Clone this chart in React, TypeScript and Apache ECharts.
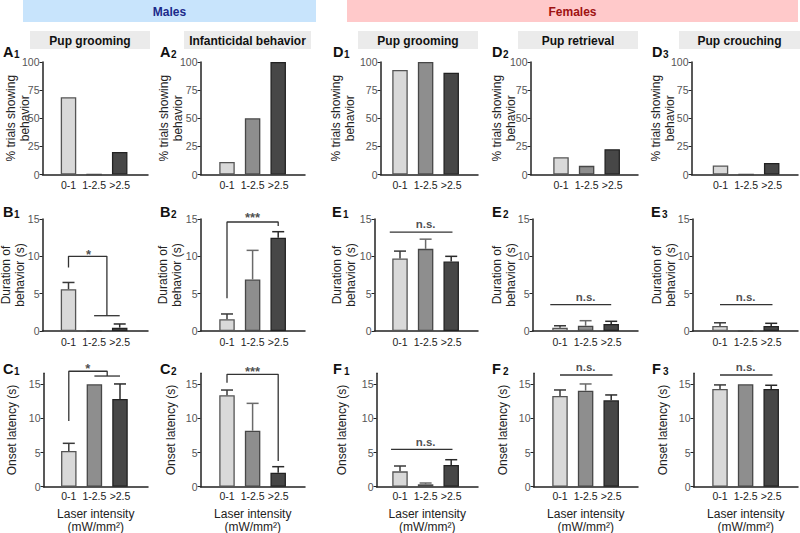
import React, { useEffect, useRef } from 'react';
import * as echarts from 'echarts';

const categories = ['0-1', '1-2.5', '>2.5'];

// % trials showing behavior
const A1_pct = [68.75, 0, 20];
const A2_pct = [11.1, 50, 100];
const D1_pct = [93, 100, 90.5];
const D2_pct = [15.4, 7.7, 22.5];
const D3_pct = [8, 0, 10.3];

// Duration of behavior (s): mean and mean + SEM
const B1_dur = [5.6, 0, 0.45];
const B1_durErr = [6.5, null, 0.94];
const B2_dur = [1.57, 6.9, 12.5];
const B2_durErr = [2.28, 10.8, 13.3];
const E1_dur = [9.7, 11.0, 9.3];
const E1_durErr = [10.7, 12.3, 10.0];
const E2_dur = [0.45, 0.7, 0.94];
const E2_durErr = [0.7, 1.38, 1.3];
const E3_dur = [0.67, 0, 0.67];
const E3_durErr = [1.1, null, 1.03];

// Onset latency (s): mean and mean + SEM
const C1_lat = [5.23, 15, 12.84];
const C1_latErr = [6.35, null, 15.04];
const C2_lat = [13.4, 8.2, 2.05];
const C2_latErr = [14.15, 12.2, 2.93];
const F1_lat = [2.25, 0.35, 3.18];
const F1_latErr = [3.03, 0.54, 3.95];
const F2_lat = [13.28, 14.06, 12.65];
const F2_latErr = [14.16, 15.04, 13.43];
const F3_lat = [14.3, 15, 14.3];
const F3_latErr = [14.9, null, 14.85];

// significance brackets (category index, value)
const B1_bracket = [[0, 8.5], [0, 10], [1.5, 10], [1.5, 2.05]];
const B1_group = [[1, 2.05], [2, 2.05]];
const B2_bracket = [[0, 4.4], [0, 14.6], [2, 14.6], [2, 14.06]];
const C1_bracket = [[0, 9.6], [0, 16.9], [1.5, 16.9], [1.5, 16.2]];
const C1_group = [[1, 16.2], [2, 16.2]];
const C2_bracket = [[0, 15.2], [0, 16.45], [2, 16.45], [2, 3.76]];
const E1_ns = [[-0.4, 13.25], [2.05, 13.25]];
const E2_ns = [[-0.38, 3.52], [2.0, 3.52]];
const E3_ns = [[0, 3.52], [2.05, 3.52]];
const F1_ns = [[-0.35, 5.47], [2.05, 5.47]];
const F2_ns = [[0, 16.35], [2.05, 16.35]];
const F3_ns = [[0, 16.35], [2.05, 16.35]];

const sigTexts = ['*', '***', 'n.s.'];

const FILL = ['#d9d9d9', '#8e8e8e', '#474747'];
const BORDER = ['#555555', '#474747', '#222222'];
const ERRC = ['#3a3a3a', '#6a6a6a', '#2a2a2a'];
const FONT = '"Liberation Sans", Arial, sans-serif';
const S = 25.6;

const ROWS = [
  { top: 62, base: 174.5, max: 100, ticks: [0, 25, 50, 75, 100], name: '% trials showing\nbehavior', tagY: 52 },
  { top: 219, base: 331, max: 15, ticks: [0, 5, 10, 15], name: 'Duration of\nbehavior (s)', tagY: 212 },
  { top: 373.3, base: 486.7, max: 16.6, ticks: [0, 5, 10, 15], name: 'Onset latency (s)', tagY: 369 },
];

type Mark = { text: string; at: number[] };
type Panel = {
  tag: string; sub: string; row: number; left: number; right: number; c0: number; gap: number; tagX: number;
  vals: number[]; errs?: (number | null)[]; lines?: number[][][]; marks?: Mark[];
};

const PANELS: Panel[] = [
  { tag: 'A', sub: '1', row: 0, left: 42.5, right: 148, c0: 68.5, gap: 11, tagX: 3, vals: A1_pct },
  { tag: 'A', sub: '2', row: 0, left: 200.5, right: 305, c0: 227, gap: 16, tagX: 160, vals: A2_pct },
  { tag: 'D', sub: '1', row: 0, left: 380.5, right: 478, c0: 400, gap: 23.5, tagX: 333, vals: D1_pct },
  { tag: 'D', sub: '2', row: 0, left: 530.5, right: 638, c0: 561, gap: 12.5, tagX: 492, vals: D2_pct },
  { tag: 'D', sub: '3', row: 0, left: 691.5, right: 798, c0: 720.5, gap: 14.5, tagX: 652, vals: D3_pct },
  { tag: 'B', sub: '1', row: 1, left: 42.5, right: 148, c0: 68.5, gap: 16, tagX: 3, vals: B1_dur, errs: B1_durErr,
    lines: [B1_bracket, B1_group], marks: [{ text: sigTexts[0], at: [0.78, 10.2] }] },
  { tag: 'B', sub: '2', row: 1, left: 200.5, right: 305, c0: 227, gap: 16.8, tagX: 160, vals: B2_dur, errs: B2_durErr,
    lines: [B2_bracket], marks: [{ text: sigTexts[1], at: [1, 15.2] }] },
  { tag: 'E', sub: '1', row: 1, left: 374.5, right: 478, c0: 400, gap: 16.5, tagX: 332, vals: E1_dur, errs: E1_durErr,
    lines: [E1_ns], marks: [{ text: sigTexts[2], at: [1, 14.3] }] },
  { tag: 'E', sub: '2', row: 1, left: 532.5, right: 638, c0: 560, gap: 14.5, tagX: 492, vals: E2_dur, errs: E2_durErr,
    lines: [E2_ns], marks: [{ text: sigTexts[2], at: [1, 4.6] }] },
  { tag: 'E', sub: '3', row: 1, left: 692.5, right: 798, c0: 720, gap: 14.5, tagX: 651, vals: E3_dur, errs: E3_durErr,
    lines: [E3_ns], marks: [{ text: sigTexts[2], at: [1, 4.6] }] },
  { tag: 'C', sub: '1', row: 2, left: 43.5, right: 148, c0: 68.8, gap: 24.5, tagX: 3, vals: C1_lat, errs: C1_latErr,
    lines: [C1_bracket, C1_group], marks: [{ text: sigTexts[0], at: [0.74, 17.28] }] },
  { tag: 'C', sub: '2', row: 2, left: 200.5, right: 305, c0: 227, gap: 23, tagX: 160, vals: C2_lat, errs: C2_latErr,
    lines: [C2_bracket], marks: [{ text: sigTexts[1], at: [1, 16.9] }] },
  { tag: 'F', sub: '1', row: 2, left: 376.5, right: 478, c0: 400, gap: 28, tagX: 333, vals: F1_lat, errs: F1_latErr,
    lines: [F1_ns], marks: [{ text: sigTexts[2], at: [1, 6.55] }] },
  { tag: 'F', sub: '2', row: 2, left: 533.5, right: 638, c0: 560, gap: 24, tagX: 492, vals: F2_lat, errs: F2_latErr,
    lines: [F2_ns], marks: [{ text: sigTexts[2], at: [1, 17.5] }] },
  { tag: 'F', sub: '3', row: 2, left: 693.5, right: 798, c0: 720, gap: 24, tagX: 652, vals: F3_lat, errs: F3_latErr,
    lines: [F3_ns], marks: [{ text: sigTexts[2], at: [1, 17.5] }] },
];

const TITLES = [
  { text: 'Pup grooming', x: 30, w: 120 },
  { text: 'Infanticidal behavior', x: 184, w: 127 },
  { text: 'Pup grooming', x: 358, w: 120 },
  { text: 'Pup retrieval', x: 518, w: 120 },
  { text: 'Pup crouching', x: 679, w: 121 },
];

function txt(x: number, y: number, text: string, size: number, color: string, weight = 'normal', align = 'center') {
  return {
    type: 'text', x, y, silent: true,
    style: {
      text, fill: color, fontSize: size, fontWeight: weight, fontFamily: FONT,
      align, verticalAlign: 'middle', textAlign: align, textVerticalAlign: 'middle',
    },
  };
}

function buildOption() {
  const grid: any[] = [];
  const xAxis: any[] = [];
  const yAxis: any[] = [];
  const series: any[] = [];

  PANELS.forEach((p, i) => {
    const r = ROWS[p.row];
    grid.push({
      left: p.left, top: r.top, width: p.right - p.left, height: r.base - r.top,
      containLabel: false, outerBoundsMode: 'none',
    });
    xAxis.push({
      type: 'value', gridIndex: i,
      min: -(p.c0 - p.left) / S,
      max: 2 + (p.right - p.c0 - 2 * S) / S,
      axisLine: { show: true, onZero: false, lineStyle: { color: '#222', width: 1.5 } },
      axisTick: { show: false },
      splitLine: { show: false },
      axisLabel: {
        customValues: [0, 1, 2],
        formatter: (v: number) => categories[Math.round(v)] ?? '',
        margin: p.row === 2 ? 4 : 5, fontSize: 10.5, color: '#222', fontFamily: FONT,
      },
      name: p.row === 2 ? 'Laser intensity\n(mW/mm²)' : '',
      nameLocation: 'middle', nameGap: 21, nameMoveOverlap: false,
      nameTextStyle: { fontSize: 12, lineHeight: 13, color: '#222', fontFamily: FONT },
    });
    yAxis.push({
      type: 'value', gridIndex: i, min: 0, max: r.max,
      axisLine: { show: true, onZero: false, lineStyle: { color: '#222222', width: 1.5 } },
      axisTick: { show: true, length: 3, customValues: r.ticks, lineStyle: { color: '#222222', width: 1 } },
      axisLabel: { customValues: r.ticks, fontSize: 10.5, color: '#555555', margin: 3, fontFamily: FONT },
      splitLine: { show: false },
      name: r.name, nameLocation: 'middle', nameGap: p.gap, nameMoveOverlap: false,
      nameTextStyle: { fontSize: 12, lineHeight: 14, color: '#222', fontFamily: FONT, align: 'center' },
    });

    series.push({
      type: 'bar', xAxisIndex: i, yAxisIndex: i, barWidth: 15.5, z: 2,
      data: p.vals.map((v, k) => ({
        value: [k, v],
        itemStyle: { color: FILL[k], borderColor: BORDER[k], borderWidth: 1.3 },
      })),
    });

    if (p.errs) {
      const d: number[][] = [];
      p.errs.forEach((u, k) => { if (u != null) d.push([k, p.vals[k], u]); });
      series.push({
        type: 'custom', xAxisIndex: i, yAxisIndex: i, z: 3, clip: false,
        encode: { x: 0, y: 1 },
        data: d,
        renderItem: (_params: any, api: any) => {
          const x = api.value(0);
          const p1 = api.coord([x, api.value(1)]);
          const p2 = api.coord([x, api.value(2)]);
          const col = ERRC[Math.round(x)];
          return {
            type: 'group',
            children: [
              { type: 'line', shape: { x1: p1[0], y1: p1[1], x2: p2[0], y2: p2[1] }, style: { stroke: col, lineWidth: 1.5 } },
              { type: 'line', shape: { x1: p2[0] - 6, y1: p2[1], x2: p2[0] + 6, y2: p2[1] }, style: { stroke: col, lineWidth: 1.5 } },
            ],
          };
        },
      });
    }

    (p.lines || []).forEach((ln) => {
      series.push({
        type: 'line', xAxisIndex: i, yAxisIndex: i, z: 4, clip: false, silent: true,
        symbol: 'none', lineStyle: { color: '#333', width: 1.3 },
        data: ln,
      });
    });

    (p.marks || []).forEach((m) => {
      series.push({
        type: 'scatter', xAxisIndex: i, yAxisIndex: i, z: 5, clip: false, silent: true,
        symbolSize: 1, itemStyle: { color: 'rgba(0,0,0,0)' },
        label: {
          show: true, position: 'inside', formatter: m.text,
          fontSize: m.text === 'n.s.' ? 11.5 : 13, fontWeight: 'bold', color: '#222', fontFamily: FONT,
        },
        data: [m.at],
      });
    });
  });

  const graphic: any[] = [
    { type: 'rect', silent: true, shape: { x: 23, y: 0, width: 293, height: 22 }, style: { fill: '#c8e4fc' } },
    txt(169.5, 11.5, 'Males', 12, '#1c2a8a', 'bold'),
    { type: 'rect', silent: true, shape: { x: 347, y: 0, width: 451, height: 22 }, style: { fill: '#ffc9ca' } },
    txt(572.5, 11.5, 'Females', 12, '#9e1212', 'bold'),
  ];
  TITLES.forEach((t) => {
    graphic.push({ type: 'rect', silent: true, shape: { x: t.x, y: 31, width: t.w, height: 18 }, style: { fill: '#ebebeb' } });
    graphic.push(txt(t.x + t.w / 2, 40.5, t.text, 12, '#111', 'bold'));
  });
  PANELS.forEach((p) => {
    const y = ROWS[p.row].tagY;
    graphic.push(txt(p.tagX, y, p.tag, 14.5, '#111', 'bold', 'left'));
    graphic.push(txt(p.tagX + 11, y + 2.5, p.sub, 10, '#111', 'bold', 'left'));
  });

  return {
    animation: false,
    backgroundColor: '#ffffff',
    textStyle: { fontFamily: FONT },
    grid, xAxis, yAxis, series, graphic,
  };
}

export default function App() {
  const ref = useRef<HTMLDivElement>(null);
  useEffect(() => {
    if (!ref.current) return;
    const chart = echarts.init(ref.current, undefined, { renderer: 'svg' });
    chart.setOption(buildOption() as any);
    return () => chart.dispose();
  }, []);
  return <div ref={ref} style={{ position: 'fixed', left: 0, top: 0, width: 800, height: 533, background: '#fff' }} />;
}
